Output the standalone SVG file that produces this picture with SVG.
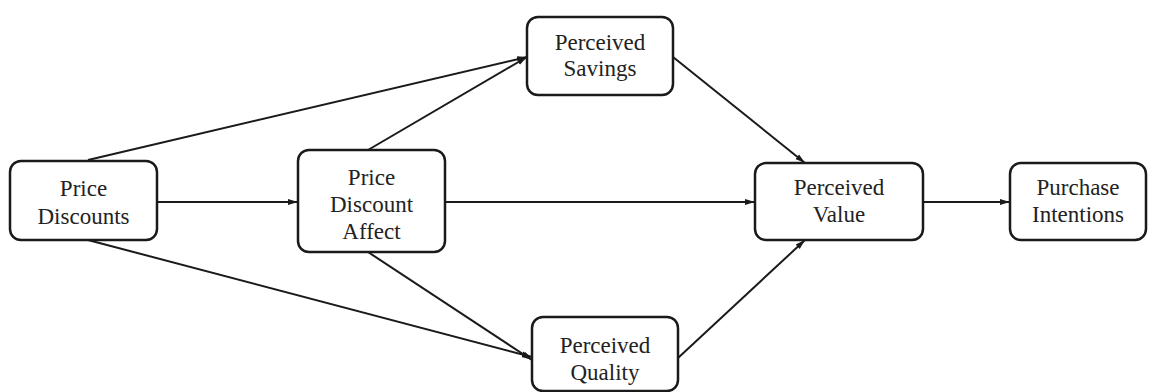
<svg xmlns="http://www.w3.org/2000/svg" width="1156" height="392" viewBox="0 0 1156 392">
<defs>
<marker id="arr" viewBox="0 0 10 10" refX="10" refY="5" markerWidth="10" markerHeight="10" markerUnits="userSpaceOnUse" orient="auto">
<path d="M0,2 L10,5 L0,8 z" fill="#1a1a1a"/>
</marker>
</defs>
<style>
.box{fill:#fff;stroke:#1a1a1a;stroke-width:2.5}
.lbl{font-family:"Liberation Serif","Times New Roman",serif;font-size:23px;fill:#222;text-anchor:middle}
.edge{stroke:#1a1a1a;stroke-width:2;fill:none;marker-end:url(#arr)}
</style>
<rect width="1156" height="392" fill="#fff"/>
<g id="connectors">
<line class="edge" x1="88" y1="160" x2="527" y2="57"/>
<line class="edge" x1="157" y1="202" x2="298" y2="202"/>
<line class="edge" x1="88" y1="240" x2="532" y2="357"/>
<line class="edge" x1="368" y1="150" x2="527" y2="57"/>
<line class="edge" x1="445" y1="202" x2="755" y2="202"/>
<line class="edge" x1="368" y1="252" x2="532" y2="360"/>
<line class="edge" x1="673" y1="57" x2="805" y2="163"/>
<line class="edge" x1="678" y1="358" x2="805" y2="240"/>
<line class="edge" x1="923" y1="202" x2="1010" y2="202"/>
</g>
<g id="price-discounts">
<rect class="box" x="10" y="161" width="147" height="79" rx="11"/>
<text class="lbl" x="83.5" y="196">Price</text>
<text class="lbl" x="83.5" y="224">Discounts</text>
</g>
<g id="price-discount-affect">
<rect class="box" x="298" y="150" width="147" height="102" rx="11"/>
<text class="lbl" x="371.5" y="185">Price</text>
<text class="lbl" x="371.5" y="212">Discount</text>
<text class="lbl" x="371.5" y="239">Affect</text>
</g>
<g id="perceived-savings">
<rect class="box" x="527" y="17" width="146" height="78" rx="11"/>
<text class="lbl" x="600" y="50">Perceived</text>
<text class="lbl" x="600" y="76">Savings</text>
</g>
<g id="perceived-value">
<rect class="box" x="755" y="163" width="168" height="77" rx="11"/>
<text class="lbl" x="839" y="195">Perceived</text>
<text class="lbl" x="839" y="222">Value</text>
</g>
<g id="purchase-intentions">
<rect class="box" x="1010" y="163" width="136" height="77" rx="11"/>
<text class="lbl" x="1078" y="195">Purchase</text>
<text class="lbl" x="1078" y="222">Intentions</text>
</g>
<g id="perceived-quality">
<rect class="box" x="532" y="317" width="146" height="74" rx="11"/>
<text class="lbl" x="605" y="353">Perceived</text>
<text class="lbl" x="605" y="380">Quality</text>
</g>
</svg>
